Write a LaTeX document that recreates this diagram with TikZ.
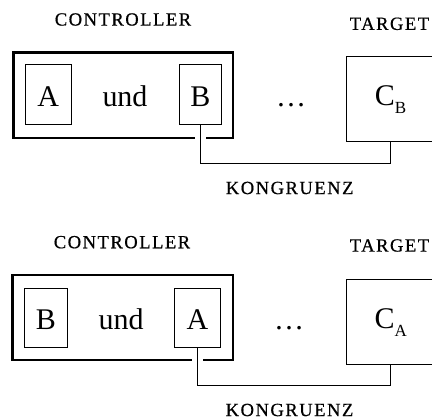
\documentclass[tikz,border=0pt]{standalone}
\usepackage{fontspec}
\setmainfont{Liberation Serif}
\begin{document}
\begin{tikzpicture}[x=1pt,y=-1pt,
  every node/.style={outer sep=0pt},
  ctrlbox/.style={draw, line width=2.4pt, inner sep=0pt},
  argbox/.style={draw, line width=0.9pt, inner sep=0pt, minimum height=59.4pt,
    text height=24pt, text depth=0pt, font=\fontsize{30}{34}\selectfont},
  tgtbox/.style={draw, line width=0.9pt, inner sep=0pt, minimum width=88pt, minimum height=85pt,
    text height=22pt, text depth=7pt, font=\fontsize{30}{34}\selectfont},
  bigtext/.style={anchor=base, inner sep=0pt, font=\fontsize{30}{34}\selectfont},
  lbl/.style={inner sep=0pt, font=\fontsize{18.6}{20}\selectfont\addfontfeature{LetterSpace=8,FakeBold=0.6}},
  conn/.style={line width=1.3pt},
  gapline/.style={draw=white, line width=11.4pt}
]
\useasboundingbox (0,0) rectangle (432,419);
\newcommand{\subsc}[1]{\raisebox{-7.4pt}{\fontsize{17}{17}\selectfont #1}}

% ---------- top diagram ----------
\node[lbl] (ctrlA) at (123,19.5) {CONTROLLER};
\node[lbl] (tgtA) at (389.5,23.8) {TARGET};
\node[ctrlbox, minimum width=219.7pt, minimum height=85.3pt] (outA) at (123.2,95.3) {};
\node[argbox, minimum width=46.3pt] (a1) at (48.2,94.5) {A};
\node[bigtext] (und1) at (125,106.7) {und};
\node[argbox, minimum width=42.7pt] (b1) at (200.3,94.5) {B};
\node[bigtext] (dots1) at (291,106.7) {\dots};
\node[tgtbox] (c1) at (390.5,98.5) {C\subsc{B}};
\draw[gapline] ([yshift=4pt]b1.south |- outA.south) -- ([yshift=-4pt]b1.south |- outA.south);
\coordinate (k1) at (200.3,163.3);
\draw[conn] (b1.south) -- (k1) -| (c1.south);
\node[lbl] (kongA) at (289.7,188) {KONGRUENZ};

% ---------- bottom diagram ----------
\node[lbl] (ctrlB) at (122,242.2) {CONTROLLER};
\node[lbl] (tgtB) at (389.5,245.5) {TARGET};
\node[ctrlbox, minimum width=220.4pt, minimum height=85pt] (outB) at (122.5,317.5) {};
\node[argbox, minimum width=43pt] (b2) at (45.8,318) {B};
\node[bigtext] (und2) at (121.2,330) {und};
\node[argbox, minimum width=46.4pt] (a2) at (197.5,318) {A};
\node[bigtext] (dots2) at (289,330) {\dots};
\node[tgtbox] (c2) at (390.7,321.5) {C\subsc{A}};
\draw[gapline] ([yshift=4pt]a2.south |- outB.south) -- ([yshift=-4pt]a2.south |- outB.south);
\coordinate (k2) at (197.5,385.7);
\draw[conn] (a2.south) -- (k2) -| (c2.south);
\node[lbl] (kongB) at (289.5,410) {KONGRUENZ};
\end{tikzpicture}
\end{document}
